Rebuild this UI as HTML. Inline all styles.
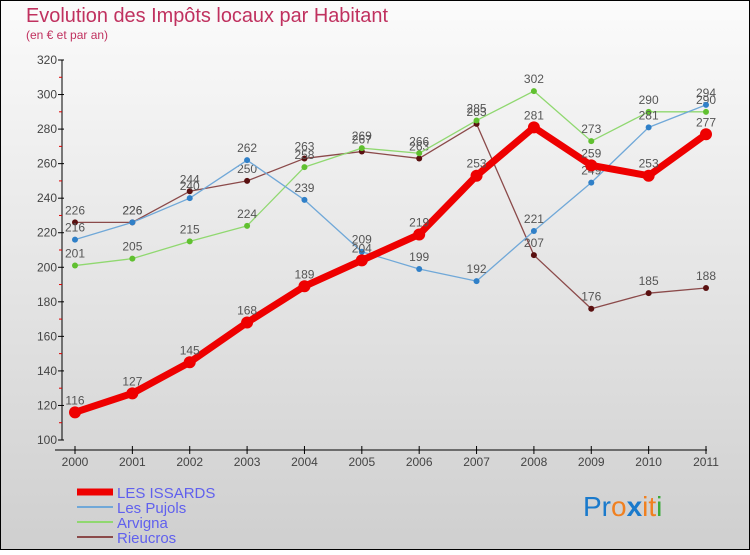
<!DOCTYPE html>
<html><head><meta charset="utf-8">
<style>
html,body{margin:0;padding:0}
body{width:750px;height:550px;overflow:hidden;font-family:"Liberation Sans",sans-serif}
svg text{font-family:"Liberation Sans",sans-serif}
</style></head>
<body>
<svg width="750" height="550" viewBox="0 0 750 550">
<defs><linearGradient id="bg" x1="0" y1="0" x2="0" y2="1"><stop offset="0" stop-color="#fbfbfb"/><stop offset="1" stop-color="#cfcfcf"/></linearGradient></defs>
<rect x="0.5" y="0.5" width="749" height="549" fill="url(#bg)" stroke="#000"/>
<text x="26" y="22" font-size="20" fill="#c0315f" textLength="362" lengthAdjust="spacingAndGlyphs">Evolution des Impôts locaux par Habitant</text>
<text x="26" y="39" font-size="12" fill="#c0315f">(en € et par an)</text>
<g id="axes"></g>
<g id="series"></g>
<g id="legend"></g>
<text x="583" y="516" font-size="28"><tspan fill="#1a7acc">Pr</tspan><tspan fill="#f08020">o</tspan><tspan fill="#1a7acc" font-weight="bold">x</tspan><tspan fill="#f08020">i</tspan><tspan fill="#f08020">t</tspan><tspan fill="#3aaa3a">i</tspan></text>
</svg>
<script>
const years=[2000,2001,2002,2003,2004,2005,2006,2007,2008,2009,2010,2011];
const yTicks=[100,120,140,160,180,200,220,240,260,280,300,320];
const issards=[116,127,145,168,189,204,219,253,281,259,253,277];
const pujols=[216,226,240,262,239,209,199,192,221,249,281,294];
const arvigna=[201,205,215,224,258,269,266,285,302,273,290,290];
const rieucros=[226,226,244,250,263,267,263,283,207,176,185,188];
const NS="http://www.w3.org/2000/svg";
const x=i=>75+i*(706-75)/11;
const y=v=>440-(v-100)*(380/220);
function mk(tag,attrs,parent){const e=document.createElementNS(NS,tag);for(const k in attrs)e.setAttribute(k,attrs[k]);parent.appendChild(e);return e;}
const axes=document.getElementById('axes');
let yl=mk('line',{x1:62,y1:y(320),x2:62,y2:y(100),stroke:'#000'},axes);


yTicks.forEach((t,i)=>{
  mk('line',{x1:58,y1:y(t),x2:64,y2:y(t),stroke:'#000'},axes);
  if(i<yTicks.length-1)mk('line',{x1:59,y1:y(t+10),x2:62,y2:y(t+10),stroke:'#d00'},axes);
  const tx=mk('text',{x:57,y:y(t)+4,'font-size':12,fill:'#444','text-anchor':'end'},axes);
  tx.textContent=t;
  
  
});
let xl=mk('line',{x1:55,y1:450,x2:707,y2:450,stroke:'#000'},axes);


years.forEach((yr,i)=>{
  mk('line',{x1:x(i),y1:446,x2:x(i),y2:454,stroke:'#000'},axes);
  const tx=mk('text',{x:x(i),y:466,'font-size':12,fill:'#444','text-anchor':'middle'},axes);
  tx.textContent=yr;
  
  
});
const series=[
 {name:'Rieucros',d:rieucros,c:'#8b4a4a',pc:'#5a1010',w:1.3,r:3},
 {name:'Arvigna',d:arvigna,c:'#90d870',pc:'#60c030',w:1.3,r:3},
 {name:'Les Pujols',d:pujols,c:'#70a8d8',pc:'#3080c8',w:1.3,r:3},
 {name:'LES ISSARDS',d:issards,c:'#ee0000',pc:'#ee0000',w:7,r:6}
];
const sg=document.getElementById('series');
series.forEach(s=>{
  const g=mk('g',{},sg);
  
  
  const p=mk('polyline',{points:s.d.map((v,i)=>x(i)+','+y(v)).join(' '),fill:'none',stroke:s.c,'stroke-width':s.w,'stroke-linejoin':'round'},g);
  
  
  s.d.forEach((v,i)=>{
    const c=mk('circle',{cx:x(i),cy:y(v),r:s.r,fill:s.pc},g);
    
    
    const t=mk('text',{x:x(i),y:y(v)-8,'font-size':12,fill:'#555','text-anchor':'middle'},g);
    t.textContent=v;
    
    
  });
});
const lg=document.getElementById('legend');
const leg=[['LES ISSARDS','#ee0000',7],['Les Pujols','#70a8d8',2],['Arvigna','#90d870',2],['Rieucros','#8b4a4a',2]];
leg.forEach((l,i)=>{
  const yy=492+i*15;
  const g=mk('g',{},lg);
  
  
  mk('line',{x1:77,y1:yy,x2:113,y2:yy,stroke:l[1],'stroke-width':l[2]},g);
  const t=mk('text',{x:117,y:yy+6,'font-size':15,fill:'#6060ee'},g);
  t.textContent=l[0];
});
</script>
</body></html>
